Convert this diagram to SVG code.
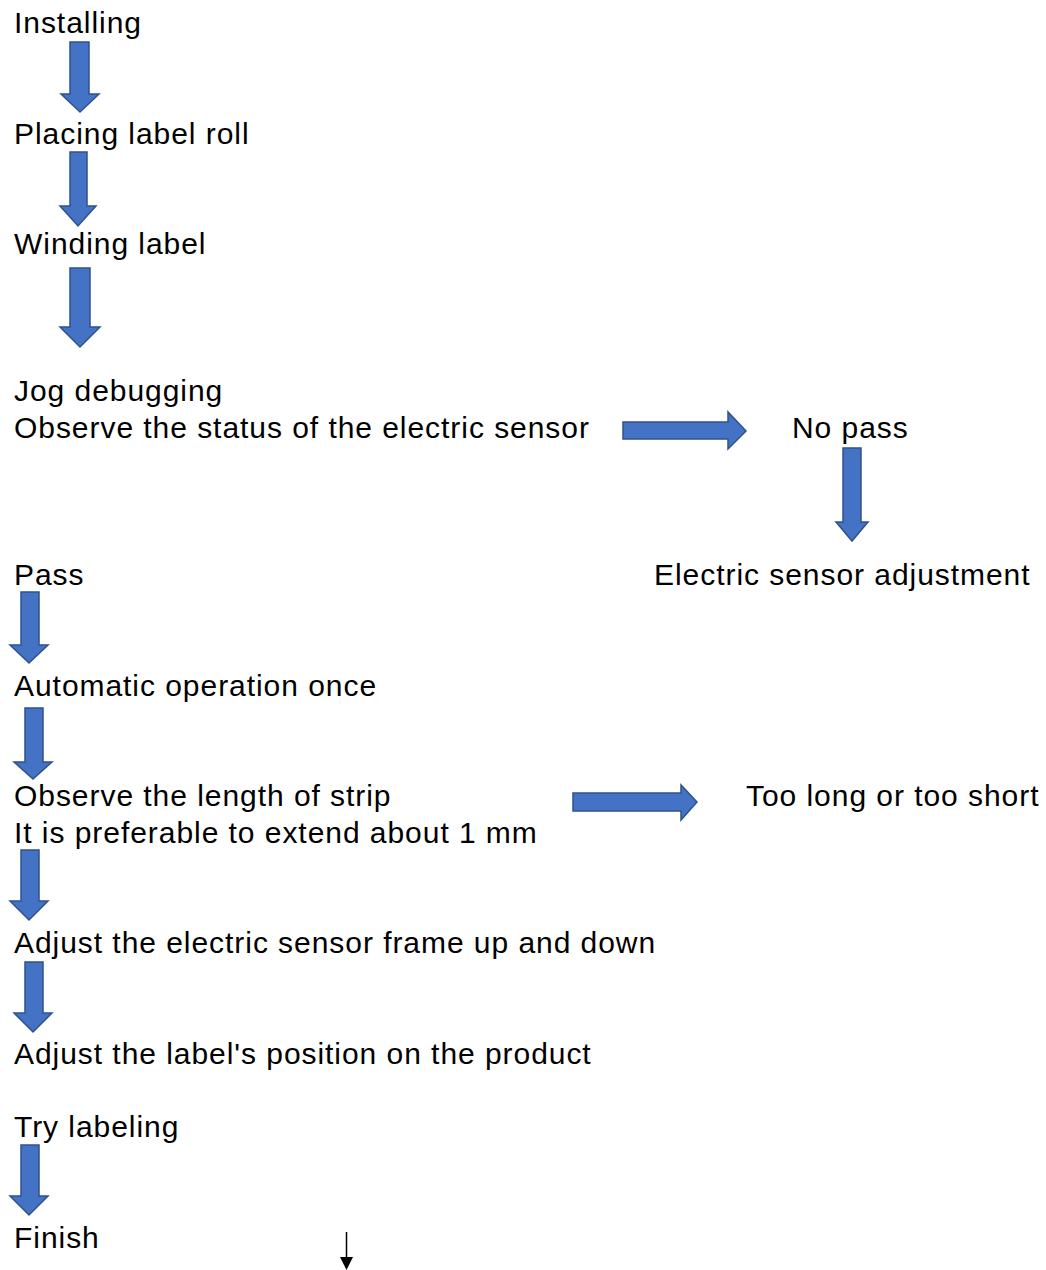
<svg xmlns="http://www.w3.org/2000/svg" width="1046" height="1270" viewBox="0 0 1046 1270">
<style>
text{font-family:"Liberation Sans",Arial,sans-serif;font-size:30px;fill:#000;letter-spacing:0.95px}
.blk{fill:#4472C4;stroke:#2F528F;stroke-width:1.5}
</style>
<rect width="1046" height="1270" fill="#fff"/>
<g id="nodes">
<g id="n-installing"><text x="14" y="33">Installing</text></g>
<g id="n-placing"><text x="14" y="144">Placing label roll</text></g>
<g id="n-winding"><text x="14" y="254">Winding label</text></g>
<g id="n-jog"><text x="14" y="401">Jog debugging</text><text x="14" y="438">Observe the status of the electric sensor</text></g>
<g id="n-nopass"><text x="792" y="438">No pass</text></g>
<g id="n-pass"><text x="14" y="585">Pass</text></g>
<g id="n-esa"><text x="654" y="585">Electric sensor adjustment</text></g>
<g id="n-auto"><text x="14" y="696">Automatic operation once</text></g>
<g id="n-strip"><text x="14" y="806">Observe the length of strip</text><text x="14" y="843">It is preferable to extend about 1 mm</text></g>
<g id="n-toolong"><text x="746" y="806">Too long or too short</text></g>
<g id="n-frame"><text x="14" y="953">Adjust the electric sensor frame up and down</text></g>
<g id="n-position"><text x="14" y="1064">Adjust the label's position on the product</text></g>
<g id="n-try"><text x="14" y="1137">Try labeling</text></g>
<g id="n-finish"><text x="14" y="1248">Finish</text></g>
</g>
<g id="connectors">
<polygon class="blk" points="70,42 89,42 89,94 99,94 80,112 61,94 70,94"/>
<polygon class="blk" points="70,152 87,152 87,206 96,206 78,226 60,206 70,206"/>
<polygon class="blk" points="70,268 90,268 90,327 100,327 80,347 60,327 70,327"/>
<polygon class="blk" points="623,422 728,422 728,412 746,431 728,449 728,439 623,439"/>
<polygon class="blk" points="843,448 861,448 861,522 868,522 852,541 836,522 843,522"/>
<polygon class="blk" points="21,592 39,592 39,645 48,645 29,663 10,645 21,645"/>
<polygon class="blk" points="25,708 43,708 43,762 52,762 33,779 14,762 25,762"/>
<polygon class="blk" points="573,793 681,793 681,785 697,802 681,820 681,811 573,811"/>
<polygon class="blk" points="21,850 39,850 39,901 48,901 29,920 10,901 21,901"/>
<polygon class="blk" points="25,962 43,962 43,1013 52,1013 33,1032 14,1013 25,1013"/>
<polygon class="blk" points="21,1145 39,1145 39,1196 48,1196 29,1215 10,1196 21,1196"/>
<line x1="346.5" y1="1232" x2="346.5" y2="1259" stroke="#000" stroke-width="1.5"/>
<polygon points="340,1257 353,1257 346.5,1270" fill="#000"/>
</g>
</svg>
